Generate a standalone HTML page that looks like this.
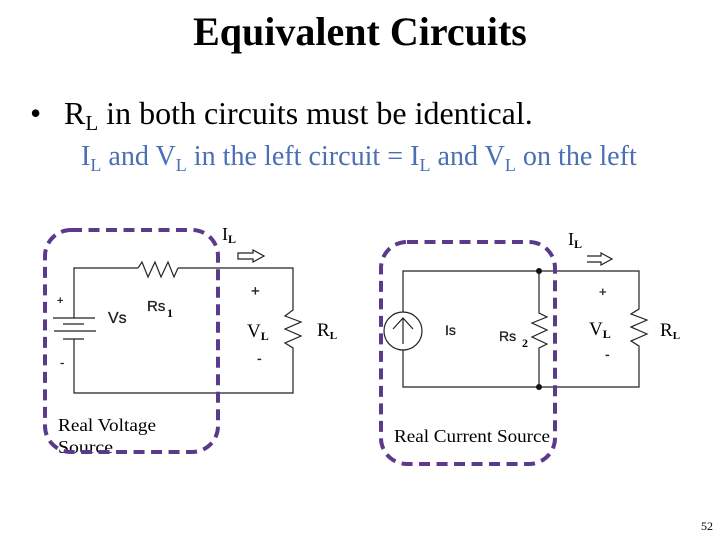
<!DOCTYPE html>
<html>
<head>
<meta charset="utf-8">
<style>
html,body{margin:0;padding:0;background:#fff}
svg{display:block}
text{font-family:"Liberation Serif",serif;fill:#000}
.s{font-family:"Liberation Sans",sans-serif;fill:#222;stroke:#222;stroke-width:.3}
.w{fill:none;stroke:#222;stroke-width:1.2}
.d{fill:none;stroke:#5b3a8c;stroke-width:4;stroke-dasharray:11 6.5}
</style>
</head>
<body>
<svg width="720" height="540" viewBox="0 0 720 540" xmlns="http://www.w3.org/2000/svg">
<text x="360" y="45" text-anchor="middle" font-size="40" font-weight="bold">Equivalent Circuits</text>
<text x="30" y="124" font-size="32">•</text>
<text x="64" y="124" font-size="32">R<tspan font-size="21" dy="6">L</tspan><tspan dy="-6"> in both circuits must be identical.</tspan></text>
<text x="81" y="165" font-size="28.1" style="fill:#4a6fb5">I<tspan font-size="18" dy="6">L</tspan><tspan dy="-6"> and V</tspan><tspan font-size="18" dy="6">L</tspan><tspan dy="-6"> in the left circuit = I</tspan><tspan font-size="18" dy="6">L</tspan><tspan dy="-6"> and V</tspan><tspan font-size="18" dy="6">L</tspan><tspan dy="-6"> on the left</tspan></text>

<!-- left circuit -->
<path class="w" d="M138 268H74V318M74 339V393H293V348L285 343L301 336L285 329L301 322L285 316L293 310V268H178"/>
<path class="w" d="M138 268L142 262L148 277L155 262L161 277L168 262L174 277L178 268"/>
<path class="w" d="M53 318H95M63 324H84M54 331H96M63 339H84"/>
<text class="s" x="57" y="304" font-size="11">+</text>
<text class="s" x="60" y="367" font-size="13">-</text>
<text class="s" x="108" y="323" font-size="16">Vs</text>
<text class="s" x="147" y="311" font-size="15">Rs</text>
<text x="167" y="317" font-size="12" font-weight="bold">1</text>
<text class="s" x="251" y="296" font-size="15">+</text>
<text x="247" y="337" font-size="19">V<tspan font-size="12" dy="3" font-weight="bold">L</tspan></text>
<text class="s" x="257" y="363" font-size="14">-</text>
<text x="317" y="336" font-size="19">R<tspan font-size="11" dy="3" font-weight="bold">L</tspan></text>
<text x="222" y="240" font-size="18">I<tspan font-size="12" dy="3" font-weight="bold">L</tspan></text>
<path class="w" d="M238 253H253V250L264 256L253 262V259H238Z"/>
<text x="58" y="431" font-size="18" textLength="98" lengthAdjust="spacingAndGlyphs">Real Voltage</text>
<text x="58" y="453" font-size="18" textLength="55" lengthAdjust="spacingAndGlyphs">Source</text>
<rect class="d" x="45" y="230" width="173" height="222" rx="26"/>

<!-- right circuit -->
<path class="w" d="M403 312V271H639V309L631 314L647 320L631 327L647 334L631 341L639 346V387H403V350"/>
<path class="w" d="M539 271V313L547 317L532 323L547 330L532 337L547 344L539 348V387"/>
<circle class="w" cx="403" cy="331" r="19"/>
<path class="w" d="M403 344V318M393 329L403 318L413 329"/>
<circle cx="539" cy="271" r="3" fill="#111"/>
<circle cx="539" cy="387" r="3" fill="#111"/>
<text class="s" x="445" y="335" font-size="14">Is</text>
<text class="s" x="499" y="341" font-size="14">Rs</text>
<text x="522" y="347" font-size="12" font-weight="bold">2</text>
<text class="s" x="599" y="296" font-size="13">+</text>
<text x="589" y="335" font-size="19">V<tspan font-size="12" dy="3" font-weight="bold">L</tspan></text>
<text class="s" x="605" y="359" font-size="14">-</text>
<text x="660" y="336" font-size="19">R<tspan font-size="11" dy="3" font-weight="bold">L</tspan></text>
<text x="568" y="245" font-size="18">I<tspan font-size="12" dy="3" font-weight="bold">L</tspan></text>
<path class="w" d="M587 256H601V253L612 259L601 265V262H587"/>
<text x="394" y="442" font-size="18" textLength="156" lengthAdjust="spacingAndGlyphs">Real Current Source</text>
<rect class="d" x="381" y="242" width="174" height="222" rx="26"/>

<text x="701" y="530" font-size="12">52</text>
</svg>
</body>
</html>
